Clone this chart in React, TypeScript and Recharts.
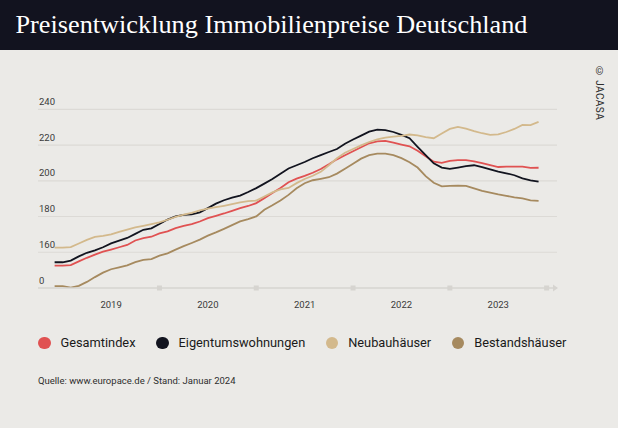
import React from "react";
import { LineChart, Line, XAxis, YAxis, CartesianGrid, ReferenceDot } from "recharts";

const MONTHS = [
  "2018-12",
  "2019-01","2019-02","2019-03","2019-04","2019-05","2019-06","2019-07","2019-08","2019-09","2019-10","2019-11","2019-12",
  "2020-01","2020-02","2020-03","2020-04","2020-05","2020-06","2020-07","2020-08","2020-09","2020-10","2020-11","2020-12",
  "2021-01","2021-02","2021-03","2021-04","2021-05","2021-06","2021-07","2021-08","2021-09","2021-10","2021-11","2021-12",
  "2022-01","2022-02","2022-03","2022-04","2022-05","2022-06","2022-07","2022-08","2022-09","2022-10","2022-11","2022-12",
  "2023-01","2023-02","2023-03","2023-04","2023-05","2023-06","2023-07","2023-08","2023-09","2023-10","2023-11","2023-12",
];

const GESAMTINDEX = [
  152.5,152.5,152.8,154.9,156.9,158.7,160.3,161.5,162.8,164.1,166.6,167.9,
  168.7,170.6,171.7,173.5,174.7,175.7,177.2,179.1,180.4,181.7,183.2,184.7,
  185.9,187.5,190.3,193.1,196.0,199.2,201.2,202.7,204.5,206.6,209.2,212.0,
  214.3,216.5,218.8,221.0,222.0,222.3,221.3,220.3,219.3,216.8,213.7,210.7,
  210.0,211.2,211.6,211.6,210.9,209.9,208.8,207.7,207.9,207.9,207.9,207.2,
  207.3,
];

const EIGENTUMSWOHNUNGEN = [
  154.4,154.4,155.3,157.7,159.7,161.1,162.8,165.0,166.5,168.0,170.3,172.6,
  173.4,175.8,178.3,180.1,180.9,181.2,182.3,184.7,187.2,189.1,190.6,191.7,
  193.7,195.9,198.4,201.0,204.0,206.9,208.7,210.5,212.6,214.4,216.1,217.8,
  220.7,223.1,225.3,227.5,228.6,228.4,227.3,225.7,223.8,219.0,214.4,209.8,
  207.4,206.7,207.4,208.2,208.7,207.7,206.4,205.1,204.2,203.1,201.3,200.2,
  199.5,
];

const NEUBAUHAEUSER = [
  162.6,162.6,162.9,164.9,166.9,168.6,169.2,170.0,171.4,172.7,173.9,174.8,
  175.7,176.7,178.2,179.8,181.1,182.1,183.4,184.4,185.2,186.0,186.9,187.9,
  188.6,188.9,191.2,193.5,195.2,196.0,198.7,201.0,202.8,205.0,208.7,212.6,
  215.7,217.8,219.8,221.7,223.2,224.2,224.7,225.1,225.9,225.4,224.4,223.8,
  226.5,229.0,230.1,229.2,227.8,226.6,225.7,226.0,227.3,229.0,231.3,231.2,
  233.0,
];

const BESTANDSHAEUSER = [
  141.1,141.1,140.2,141.2,143.4,146.1,148.6,150.5,151.6,152.7,154.5,155.7,
  156.2,158.1,159.4,161.5,163.4,165.2,167.1,169.3,171.1,173.1,175.2,177.3,
  178.5,180.1,183.8,186.3,189.0,192.1,195.8,198.6,200.3,201.1,202.0,204.0,
  206.7,209.5,212.4,214.3,215.2,215.2,214.4,212.7,210.4,207.4,202.6,198.9,
  196.9,197.2,197.3,197.2,195.8,194.4,193.4,192.4,191.6,190.7,190.1,189.0,
  188.8,
];

const Y_TICKS = [140, 160, 180, 200, 220, 240];
const Y_TICK_LABELS = ["0", "160", "180", "200", "220", "240"];
const YEARS = [2019, 2020, 2021, 2022, 2023];
const YEAR_MARKERS = [2020, 2021, 2022, 2023, 2024];

const SERIES = [
  { key: "gesamt", name: "Gesamtindex", values: GESAMTINDEX, color: "#e05252" },
  { key: "etw", name: "Eigentumswohnungen", values: EIGENTUMSWOHNUNGEN, color: "#12141f" },
  { key: "neubau", name: "Neubauhäuser", values: NEUBAUHAEUSER, color: "#d3b98c" },
  { key: "bestand", name: "Bestandshäuser", values: BESTANDSHAEUSER, color: "#a68a5f" },
];

const data = MONTHS.map((m, i) => {
  const [yy, mm] = m.split("-").map(Number);
  const row: Record<string, number | string> = { month: m, t: yy + (mm - 1) / 12 };
  SERIES.forEach((s) => {
    row[s.key] = s.values[i];
  });
  return row;
});

const X_DOMAIN = [2018.745, 2024.107];
const AXIS_COLOR = "#d6d4d0";
const BG = "#ebeae7";
const FONT = "Roboto, 'Noto Sans', sans-serif";

const YTick = (props: any) => {
  const { x, y, payload } = props;
  const idx = Y_TICKS.indexOf(payload.value);
  return (
    <text x={x + 1} y={y - 4.5} fill="#3a3a3a" fontSize={9.5} fontFamily={FONT} textAnchor="start">
      {idx >= 0 ? Y_TICK_LABELS[idx] : String(payload.value)}
    </text>
  );
};

const XTick = (props: any) => {
  const { x, y, payload } = props;
  return (
    <text x={x} y={y + 20} fill="#3a3a3a" fontSize={9.5} fontFamily={FONT} textAnchor="middle">
      {String(Math.floor(payload.value))}
    </text>
  );
};

const SquareMarker = (props: any) => {
  const { cx, cy } = props;
  return <rect x={cx - 2.5} y={cy - 2.5} width={5} height={5} fill={AXIS_COLOR} />;
};

const ArrowMarker = (props: any) => {
  const { cx, cy } = props;
  return <polygon points={`${cx - 4},${cy - 3.5} ${cx + 1},${cy} ${cx - 4},${cy + 3.5}`} fill={AXIS_COLOR} />;
};

export default function App() {
  return (
    <div
      style={{
        position: "absolute",
        left: 0,
        top: 0,
        width: 618,
        height: 428,
        background: BG,
        overflow: "hidden",
        fontFamily: FONT,
      }}
    >
      <svg width={618} height={50} style={{ position: "absolute", left: 0, top: 0, display: "block" }}>
        <rect x={0} y={0} width={618} height={50} fill="#12131f" />
        <text
          x={15.5}
          y={33}
          fill="#ffffff"
          fontSize={26}
          fontFamily="'Liberation Serif', 'DejaVu Serif', serif"
          textLength={512}
          lengthAdjust="spacingAndGlyphs"
        >
          Preisentwicklung Immobilienpreise Deutschland
        </text>
      </svg>

      <div
        style={{
          position: "absolute",
          left: 594,
          top: 66,
          writingMode: "vertical-rl",
          fontSize: 10,
          color: "#2e2e2e",
          letterSpacing: 0.4,
          fontFamily: FONT,
        }}
      >
        © JACASA
      </div>

      <div style={{ position: "absolute", left: 0, top: 0 }}>
        <LineChart width={618} height={330} data={data} margin={{ top: 109.3, left: 0, right: 61, bottom: 12 }}>
          <CartesianGrid vertical={false} horizontalValues={Y_TICKS.slice(1)} stroke="#dcdad6" strokeWidth={1.2} />
          <XAxis
            dataKey="t"
            type="number"
            domain={X_DOMAIN}
            allowDataOverflow
            ticks={YEARS.map((y) => y + 0.5)}
            interval={0}
            axisLine={{ stroke: AXIS_COLOR, strokeWidth: 1.5 }}
            tickLine={false}
            tickSize={0}
            tickMargin={0}
            height={30}
            tick={<XTick />}
          />
          <YAxis
            type="number"
            domain={[140, 240]}
            allowDataOverflow
            ticks={Y_TICKS}
            interval={0}
            width={38}
            tickSize={0}
            tickMargin={0}
            axisLine={false}
            tickLine={false}
            tick={<YTick />}
          />
          {YEAR_MARKERS.map((yv) => (
            <ReferenceDot key={yv} x={yv} y={140} r={2.5} shape={<SquareMarker />} ifOverflow="visible" />
          ))}
          <ReferenceDot x={X_DOMAIN[1]} y={140} r={3} shape={<ArrowMarker />} ifOverflow="visible" />
          {SERIES.map((s) => (
            <Line
              key={s.key}
              dataKey={s.key}
              name={s.name}
              stroke={s.color}
              strokeWidth={1.8}
              dot={false}
              activeDot={false}
              type="linear"
              isAnimationActive={false}
            />
          ))}
        </LineChart>
      </div>

      <div
        style={{
          position: "absolute",
          left: 38,
          top: 335,
          display: "flex",
          alignItems: "center",
          fontSize: 12.8,
          color: "#1a1a1a",
          fontFamily: FONT,
          whiteSpace: "nowrap",
        }}
      >
        {SERIES.map((s) => (
          <div key={s.key} style={{ display: "flex", alignItems: "center", marginRight: 20.5 }}>
            <span
              style={{
                display: "inline-block",
                width: 12.5,
                height: 12.5,
                borderRadius: "50%",
                background: s.color,
                marginRight: 10,
              }}
            />
            <span style={{ lineHeight: "16px" }}>{s.name}</span>
          </div>
        ))}
      </div>

      <div
        style={{
          position: "absolute",
          left: 38,
          top: 375,
          fontSize: 9.5,
          color: "#2e2e2e",
          fontFamily: FONT,
          lineHeight: "12px",
          whiteSpace: "nowrap",
        }}
      >
        Quelle: www.europace.de / Stand: Januar 2024
      </div>
    </div>
  );
}
